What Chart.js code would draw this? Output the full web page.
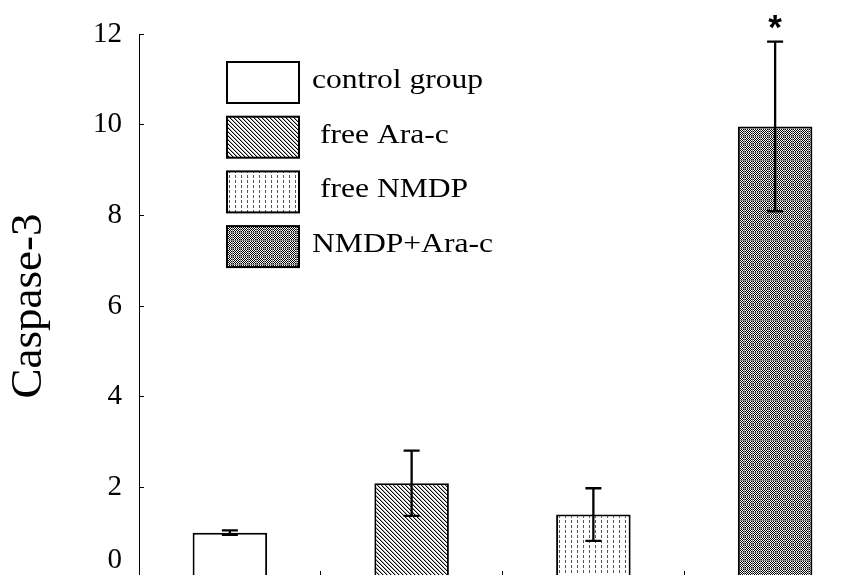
<!DOCTYPE html>
<html>
<head>
<meta charset="utf-8">
<script src="https://cdn.jsdelivr.net/npm/chart.js@4.4.1/dist/chart.umd.min.js"></script>
<style>
  html, body { margin: 0; padding: 0; background: #fff; overflow: hidden; }
  #wrap { position: absolute; left: 0; top: 0; }
  canvas { display: block; }
</style>
</head>
<body>
<div id="wrap"><canvas id="caspaseChart" width="866" height="605"></canvas></div>
<script>
// --- Données ---
const groups = ['control group', 'free Ara-c', 'free NMDP', 'NMDP+Ara-c'];
const legendLabels = ['control group', ' free Ara-c', ' free NMDP', 'NMDP+Ara-c'];
const caspase = [1.0, 2.09, 1.4, 9.96];
const caspaseErr = [0.05, 0.72, 0.58, 1.87];
const signif = ['', '', '', '*'];
const yTicks = [0, 2, 4, 6, 8, 10, 12];
const fillTypes = ['plain', 'hatch', 'dash', 'checker'];

// --- Motifs de remplissage ---
function makePattern(type) {
  const tile = document.createElement('canvas');
  const c = tile.getContext('2d');
  if (type === 'plain') {
    return '#ffffff';
  }
  if (type === 'hatch') {
    tile.width = 4; tile.height = 4;
    c.fillStyle = '#fff'; c.fillRect(0, 0, 4, 4);
    for (let i = 0; i < 4; i++) {
      c.fillStyle = '#000'; c.fillRect(i, i, 1, 1);
      c.fillStyle = '#aaa'; c.fillRect((i + 1) % 4, i, 1, 1);
    }
  } else if (type === 'dash') {
    tile.width = 6; tile.height = 5;
    c.fillStyle = '#fff'; c.fillRect(0, 0, 6, 5);
    c.fillStyle = '#555'; c.fillRect(1, 0, 1, 3);
  } else if (type === 'checker') {
    tile.width = 8; tile.height = 8;
    for (let x = 0; x < 8; x++) {
      for (let y = 0; y < 8; y++) {
        let col = (x + y) % 2 === 0 ? '#000' : '#fff';
        if (x === 0 || y === 0) col = '#8a8a8a';
        c.fillStyle = col; c.fillRect(x, y, 1, 1);
      }
    }
  }
  return c.createPattern(tile, 'repeat');
}

const fills = fillTypes.map(makePattern);

// --- Barres d'erreur + astérisque ---
const errorBars = {
  id: 'errorBars',
  afterDatasetsDraw(chart) {
    const ctx = chart.ctx;
    const y = chart.scales.y;
    const meta = chart.getDatasetMeta(0);
    ctx.save();
    ctx.strokeStyle = '#000';
    ctx.lineWidth = 2.3;
    meta.data.forEach((bar, i) => {
      const top = y.getPixelForValue(caspase[i] + caspaseErr[i]);
      const bot = y.getPixelForValue(caspase[i] - caspaseErr[i]);
      const x = bar.x;
      ctx.beginPath();
      ctx.moveTo(x, top); ctx.lineTo(x, bot);
      ctx.moveTo(x - 8, top); ctx.lineTo(x + 8, top);
      ctx.moveTo(x - 8, bot); ctx.lineTo(x + 8, bot);
      ctx.stroke();
      if (signif[i]) {
        ctx.fillStyle = '#000';
        ctx.font = 'bold 35px "Liberation Sans"';
        ctx.textAlign = 'center';
        ctx.textBaseline = 'alphabetic';
        ctx.fillText(signif[i], x, top - 3);
      }
    });
    ctx.restore();
  }
};

// --- Légende dessinée dans la zone du graphique ---
const boxLegend = {
  id: 'boxLegend',
  afterDraw(chart) {
    const ctx = chart.ctx;
    const area = chart.chartArea;
    const left = area.left + 88;
    const top0 = area.top + 28;
    ctx.save();
    legendLabels.forEach((lab, i) => {
      const top = top0 + i * 54.7;
      ctx.fillStyle = fills[i];
      ctx.fillRect(left, top, 72, 41);
      ctx.strokeStyle = '#000';
      ctx.lineWidth = 2;
      ctx.strokeRect(left, top, 72, 41);
      ctx.save();
      ctx.translate(left + 85, top + 26);
      ctx.scale(1.17, 1);
      ctx.fillStyle = '#000';
      ctx.font = '27px "Liberation Serif"';
      ctx.textAlign = 'left';
      ctx.textBaseline = 'alphabetic';
      ctx.fillText(lab, 0, 0);
      ctx.restore();
    });
    ctx.restore();
  }
};

const chartCtx = document.getElementById('caspaseChart');

const caspaseChart = new Chart(chartCtx, {
  type: 'bar',
  data: {
    labels: groups,
    datasets: [{
      label: 'Caspase-3',
      data: caspase,
      backgroundColor: fills,
      borderColor: '#000',
      borderWidth: 2,
      borderSkipped: 'bottom',
      barPercentage: 0.41,
      categoryPercentage: 1
    }]
  },
  options: {
    responsive: false,
    animation: false,
    layout: { padding: { top: 34, left: 0, right: 0, bottom: 0 } },
    plugins: {
      legend: { display: false },
      tooltip: { enabled: false }
    },
    scales: {
      x: {
        grid: { drawOnChartArea: false, tickLength: -7, color: '#000', lineWidth: 1 },
        border: { color: '#000', width: 1 },
        ticks: { display: false },
        afterFit: s => { s.height = 27; }
      },
      y: {
        min: 0,
        max: 12,
        afterBuildTicks: s => { s.ticks = yTicks.map(v => ({ value: v })); },
        ticks: {
          padding: 22,
          color: '#000',
          font: { family: 'Liberation Serif', size: 29 },
          // le "0" est remonté pour rester visible au bas de l'image
          callback: v => (v === 0 ? ['0', ''] : String(v))
        },
        grid: { drawOnChartArea: false, tickLength: -5, color: '#000', lineWidth: 1 },
        border: { color: '#000', width: 1 },
        title: {
          display: true,
          text: 'Caspase-3',
          color: '#000',
          font: { family: 'Liberation Serif', size: 45 },
          padding: { top: 2, bottom: 0 }
        },
        afterFit: s => {
          s.width = 139;
          s.paddingTop = 0;
          s.paddingBottom = 0;
        }
      }
    }
  },
  plugins: [errorBars, boxLegend]
});
</script>
</body>
</html>
